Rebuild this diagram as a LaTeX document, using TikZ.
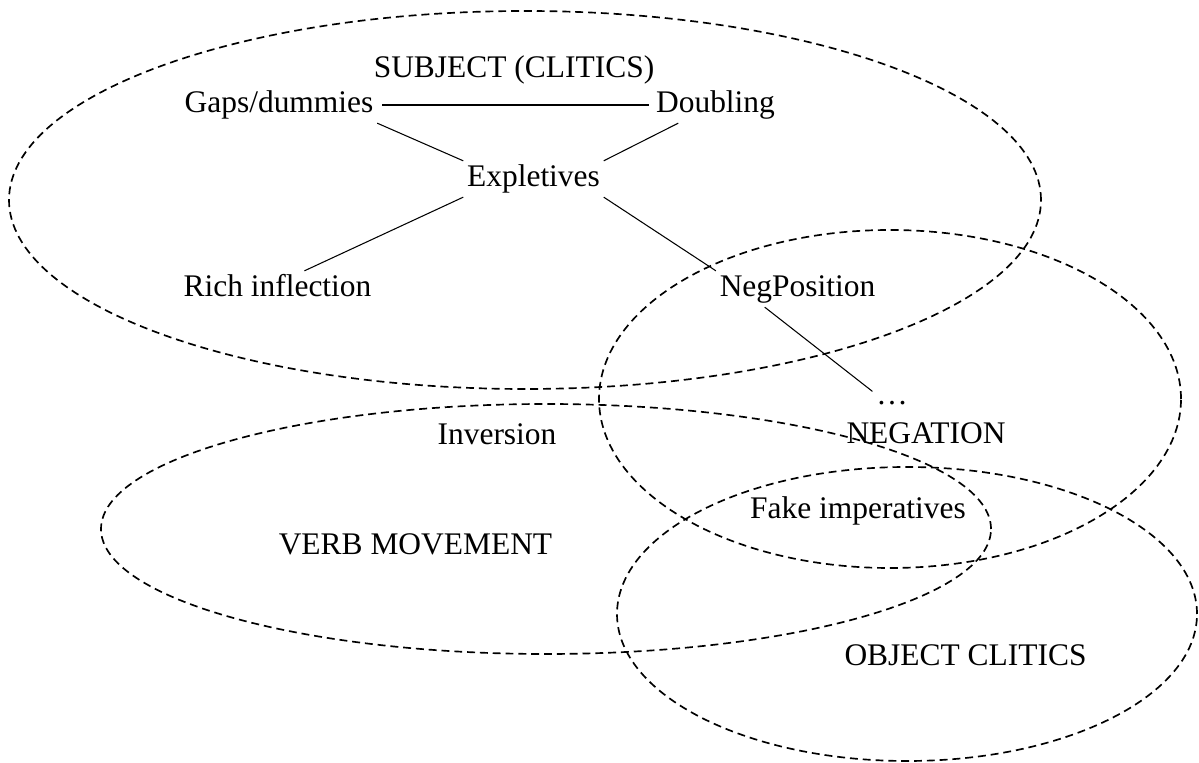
\documentclass[tikz,border=0pt]{standalone}
\usepackage{fontspec}
\setmainfont{Liberation Serif}
\usetikzlibrary{positioning}

\begin{document}
\begin{tikzpicture}[x=0.02cm,y=0.02cm,
  lbl/.style={font=\fontsize{17.9}{21}\selectfont, inner sep=2pt,
              text height=12.35pt, text depth=3.94pt},
  area/.style={dash pattern=on 4.5pt off 2.8pt, line width=0.95pt},
  link/.style={line width=0.6pt}]
\useasboundingbox (0,0) rectangle (1199,763);

% the four areas
\draw[area] (525,563) ellipse [x radius=516, y radius=189];
\draw[area] (890,364) ellipse [x radius=291, y radius=169];
\draw[area] (546,234) ellipse [x radius=445, y radius=125];
\draw[area] (907,149) ellipse [x radius=290, y radius=147];

% labels
\node[lbl] (subj) at (514,693) {SUBJECT (CLITICS)};
\node[lbl] (gaps) at (279,658) {Gaps/dummies};
\node[lbl] (doubl) at (715.5,658) {Doubling};
\node[lbl] (expl) at (533.5,584) {Expletives};
\node[lbl] (rich) at (277.5,474) {Rich inflection};
\node[lbl] (negpos) at (797.5,474) {NegPosition};
\node[lbl] (dots) at (892,366) {…};
\node[lbl] (inv) at (497,326) {Inversion};
\node[lbl] (negat) at (926,327) {NEGATION};
\node[lbl] (fake) at (858,252) {Fake imperatives};
\node[lbl] (verb) at (415.5,216) {VERB MOVEMENT};
\node[lbl] (obj) at (965.5,105) {OBJECT CLITICS};

% links
\draw[link, shorten <=3pt, shorten >=2pt] (gaps) -- (doubl);
\draw[link] (gaps.south east) -- (expl.north west);
\draw[link] (doubl.206) -- (expl.north east);
\draw[link] (expl.south west) -- (rich.34);
\draw[link] (expl.south east) -- (negpos.north west);
\draw[link] (negpos.209) -- (dots.164);
\end{tikzpicture}
\end{document}
